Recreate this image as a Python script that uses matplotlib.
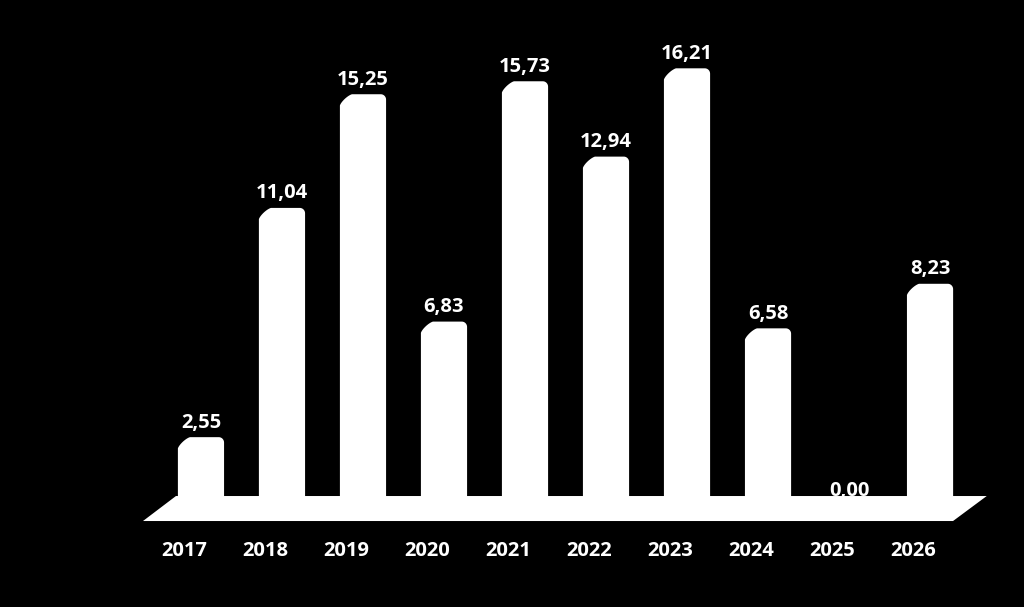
import numpy as np
import matplotlib.pyplot as plt
from matplotlib.patches import Polygon

anos = ['2017', '2018', '2019', '2020', '2021', '2022', '2023', '2024', '2025', '2026']
valores = [2.55, 11.04, 15.25, 6.83, 15.73, 12.94, 16.21, 6.58, 0.00, 8.23]

plt.rcParams['font.family'] = ['Open Sans', 'DejaVu Sans']

fig = plt.figure(figsize=(10.24, 6.07), dpi=100, facecolor='black')
ax = fig.add_axes([0, 0, 1, 1])
ax.set_facecolor('black')
ax.set_xlim(-2.481, 10.16)
ax.set_ylim(-3.74, 18.74)
ax.axis('off')

# piso em perspectiva
n = len(anos)
piso = Polygon([(-0.716, -0.556), (n - 1 + 0.284, -0.556),
                (n - 1 + 0.70, 0.37), (-0.309, 0.37)],
               closed=True, facecolor='white', edgecolor='none', zorder=1)
ax.add_patch(piso)

barras = ax.bar(range(n), valores, width=0.57, color='white', zorder=2)
# topo chanfrado à esquerda, arredondado à direita
cx, cy = 0.15, 0.42
rx, ry = 0.065, 0.2
t = np.linspace(0, np.pi / 2, 12)
p = 1.5
for b in barras:
    b.set_visible(False)
    if b.get_height() <= 0:
        continue
    x0, y0 = b.get_x(), b.get_y()
    x1, y1 = x0 + b.get_width(), y0 + b.get_height()
    esq = np.column_stack([x0 + cx * (1 - np.cos(t) ** p),
                           y1 - cy * (1 - np.sin(t) ** p)])
    dire = np.column_stack([x1 - rx + rx * np.sin(t), y1 - ry + ry * np.cos(t)])
    pts = np.vstack([[x0, y0], esq, dire, [x1, y0]])
    ax.add_patch(Polygon(pts, closed=True, facecolor='white',
                         edgecolor='none', zorder=2))

for i, v in enumerate(valores):
    ax.text(i, v + 0.17, f'{v:.2f}'.replace('.', ','), ha='center', va='bottom',
            color='white', fontsize=14.5, fontweight='bold', zorder=3)
    ax.text(i - 0.21, -1.67, anos[i], ha='center', va='center',
            color='white', fontsize=14.5, fontweight='bold', zorder=3)

fig.savefig('out.png', dpi=100, facecolor='black')
